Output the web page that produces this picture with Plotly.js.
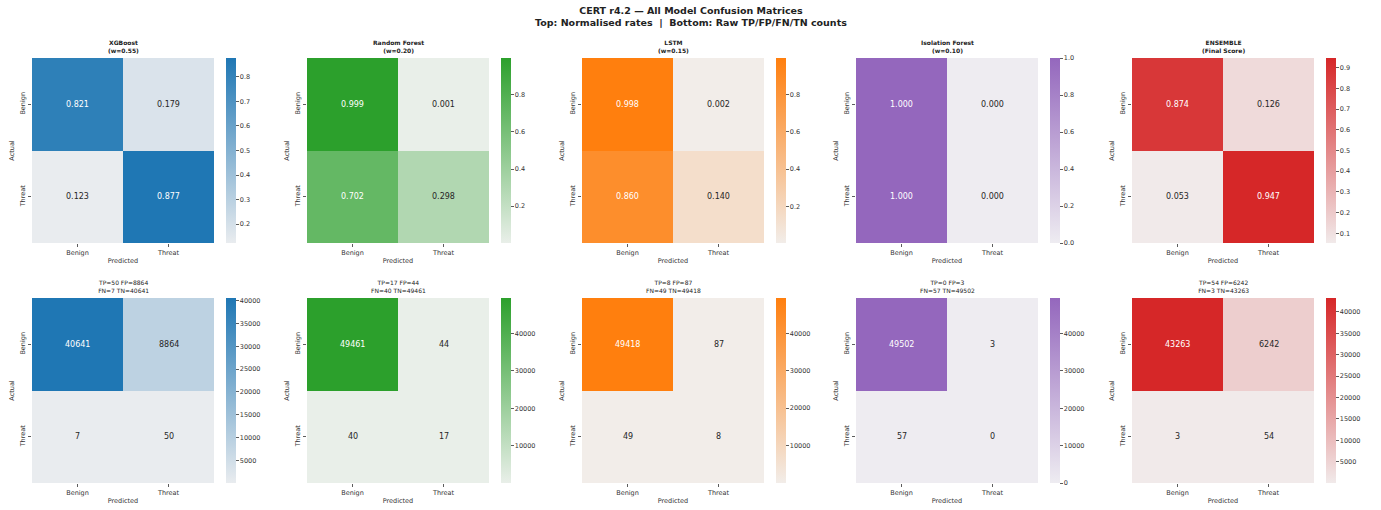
<!DOCTYPE html>
<html><head><meta charset="utf-8">
<script src="https://cdn.plot.ly/plotly-3.0.1.min.js"></script>
<style>html,body{margin:0;padding:0;background:#fff}#chart{width:1381px;height:510px}</style>
</head><body><div id="chart"></div>
<script>
// ---- data ----
const models = ['XGBoost', 'Random Forest', 'LSTM', 'Isolation Forest', 'ENSEMBLE'];
const modelNotes = ['(w=0.55)', '(w=0.20)', '(w=0.15)', '(w=0.10)', '(Final Score)'];
const classLabels = ['Benign', 'Threat'];
const tnCounts = [40641, 49461, 49418, 49502, 43263];
const fpCounts = [8864, 44, 87, 3, 6242];
const fnCounts = [7, 40, 49, 57, 3];
const tpCounts = [50, 17, 8, 0, 54];
const rateBenignBenign = [0.821, 0.999, 0.998, 1.000, 0.874];
const rateBenignThreat = [0.179, 0.001, 0.002, 0.000, 0.126];
const rateThreatBenign = [0.123, 0.702, 0.860, 1.000, 0.053];
const rateThreatThreat = [0.877, 0.298, 0.140, 0.000, 0.947];
const titleLine1 = 'CERT r4.2 — All Model Confusion Matrices';
const titleLine2 = 'Top: Normalised rates  |  Bottom: Raw TP/FP/FN/TN counts';

// ---- styles ----
const darkColors = ['#1f77b4', '#2ca02c', '#ff7f0e', '#9467bd', '#d62728'];
const lightColors = ['#e9ecef', '#e9efe9', '#f2ede9', '#eeecf1', '#f1eaea'];
const topDtick = [0.1, 0.2, 0.2, 0.2, 0.1];
const botDtick = [5000, 10000, 10000, 10000, 5000];
const W = 1381, H = 510;
const hmLeft = [32, 307, 582, 856, 1132];
const hmWidth = 182;
const cbGap = 12;
const rows = [{top: 58, bottom: 243}, {top: 298, bottom: 483}];
const FONT = 'DejaVu Sans, Liberation Sans, sans-serif';

const px = v => v / W;
const py = v => 1 - v / H;

const data = [];
const layout = {
  width: W, height: H,
  margin: {l: 0, r: 0, t: 0, b: 0},
  paper_bgcolor: '#fff', plot_bgcolor: '#fff',
  font: {family: FONT, size: 7, color: '#262626'},
  showlegend: false,
  annotations: [{
    x: 0.5, y: py(3), xref: 'paper', yref: 'paper', xanchor: 'center', yanchor: 'top',
    showarrow: false, text: '<b>' + titleLine1 + '</b><br><b>' + titleLine2 + '</b>',
    font: {size: 9.5, color: '#222', family: FONT}
  }]
};

function ticksFor(zmin, zmax, step, dec) {
  const out = [];
  for (let k = Math.ceil(zmin / step - 1e-9); k * step <= zmax + 1e-9; k++) out.push(+(k * step).toFixed(dec));
  return out;
}

let idx = 0;
for (let r = 0; r < 2; r++) {
  for (let m = 0; m < 5; m++) {
    idx++;
    const xa = 'x' + (idx === 1 ? '' : idx), ya = 'y' + (idx === 1 ? '' : idx);
    const xk = 'xaxis' + (idx === 1 ? '' : idx), yk = 'yaxis' + (idx === 1 ? '' : idx);
    let z, txt;
    if (r === 0) {
      z = [[rateBenignBenign[m], rateBenignThreat[m]], [rateThreatBenign[m], rateThreatThreat[m]]];
      txt = z.map(row => row.map(v => v.toFixed(3)));
    } else {
      z = [[tnCounts[m], fpCounts[m]], [fnCounts[m], tpCounts[m]]];
      txt = z.map(row => row.map(v => String(v)));
    }
    const flat = z.flat();
    const zmin = Math.min(...flat), zmax = Math.max(...flat);
    const rowPx = rows[r];
    const lenPx = rowPx.bottom - rowPx.top;
    const tv = ticksFor(zmin, zmax, r === 0 ? topDtick[m] : botDtick[m], r === 0 ? 1 : 0);
    data.push({
      type: 'heatmap', x: classLabels, y: classLabels, z: z,
      xaxis: xa, yaxis: ya, zmin: zmin, zmax: zmax,
      colorscale: [[0, lightColors[m]], [1, darkColors[m]]],
      hoverinfo: 'skip',
      colorbar: {
        x: px(hmLeft[m] + hmWidth + cbGap), xanchor: 'left', xref: 'paper',
        y: py(rowPx.bottom), yanchor: 'bottom', yref: 'paper',
        len: lenPx / H, lenmode: 'fraction',
        thickness: 10, thicknessmode: 'pixels',
        outlinewidth: 0, ticks: 'outside', ticklen: 3, tickwidth: 0.8, tickcolor: '#333',
        tickmode: 'array', tickvals: tv,
        ticktext: tv.map(v => r === 0 ? v.toFixed(1) : String(v)),
        tickfont: {size: 6.5, color: '#333', family: FONT},
        xpad: 0, ypad: 0
      }
    });
    layout[xk] = {
      domain: [px(hmLeft[m]), px(hmLeft[m] + hmWidth)],
      anchor: ya, type: 'category', categoryorder: 'array', categoryarray: classLabels,
      showgrid: false, zeroline: false, showline: false,
      ticks: 'outside', ticklen: 3, tickwidth: 0.8, tickcolor: '#333',
      tickfont: {size: 6.5, color: '#333'},
      title: {text: 'Predicted', font: {size: 6.5, color: '#333'}, standoff: 2}
    };
    layout[yk] = {
      domain: [py(rowPx.bottom), py(rowPx.top)],
      anchor: xa, type: 'category', categoryorder: 'array', categoryarray: classLabels,
      autorange: 'reversed',
      showgrid: false, zeroline: false, showline: false,
      ticks: 'outside', ticklen: 3, tickwidth: 0.8, tickcolor: '#333',
      tickangle: -90,
      tickfont: {size: 6.5, color: '#333'},
      title: {text: 'Actual', font: {size: 6.5, color: '#333'}, standoff: 4}
    };
    for (let i = 0; i < 2; i++) {
      for (let j = 0; j < 2; j++) {
        const frac = zmax > zmin ? (z[i][j] - zmin) / (zmax - zmin) : 0;
        layout.annotations.push({
          x: classLabels[j], y: classLabels[i], xref: xa, yref: ya,
          text: txt[i][j], showarrow: false,
          font: {size: 8, color: frac > 0.5 ? '#ffffff' : '#262626', family: FONT}
        });
      }
    }
    let ttl;
    if (r === 0) {
      ttl = '<b>' + models[m] + '</b><br><b>' + modelNotes[m] + '</b>';
    } else {
      ttl = 'TP=' + tpCounts[m] + ' FP=' + fpCounts[m] + '<br>FN=' + fnCounts[m] + ' TN=' + tnCounts[m];
    }
    layout.annotations.push({
      x: px(hmLeft[m] + hmWidth / 2), y: py(rowPx.top - 2), xref: 'paper', yref: 'paper',
      xanchor: 'center', yanchor: 'bottom', showarrow: false,
      text: ttl, font: {size: 6, color: '#222', family: FONT}
    });
  }
}

Plotly.newPlot('chart', data, layout, {displayModeBar: false, staticPlot: true});
</script>
</body></html>
